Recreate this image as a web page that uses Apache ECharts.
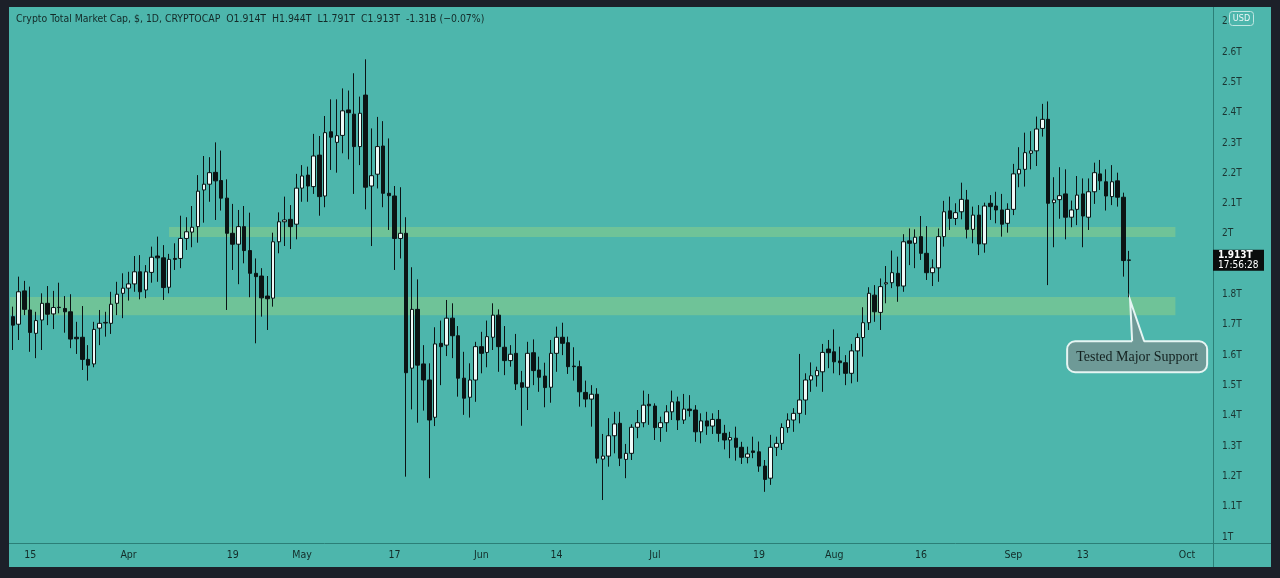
<!DOCTYPE html>
<html><head><meta charset="utf-8">
<script src="https://cdn.jsdelivr.net/npm/echarts@6/dist/echarts.min.js"></script>
<style>
html,body{margin:0;padding:0;background:#1c2029;width:1280px;height:578px;overflow:hidden;}
#bg{position:absolute;left:9px;top:7px;width:1262px;height:560px;background:#4db6ac;}
#chart{position:absolute;left:0;top:0;width:1280px;height:578px;}
</style></head><body><div id="bg"></div><div id="chart"></div>
<script>
const startDate = '2021-03-12';
const endDate = '2021-10-05';
const openVals = [1.727,1.702,1.812,1.749,1.672,1.716,1.771,1.736,1.758,1.754,1.743,1.659,1.659,1.586,1.571,1.689,1.706,1.705,1.771,1.804,1.821,1.835,1.875,1.815,1.873,1.927,1.921,1.824,1.919,1.919,1.985,2.006,2.024,2.145,2.164,2.203,2.176,2.118,2.002,1.966,2.024,1.945,1.870,1.861,1.795,1.788,1.974,2.040,2.048,2.032,2.151,2.194,2.156,2.260,2.125,2.337,2.302,2.325,2.409,2.395,2.288,2.458,2.158,2.197,2.290,2.134,2.125,1.985,2.002,1.557,1.751,1.571,1.518,1.395,1.639,1.633,1.722,1.664,1.524,1.461,1.518,1.628,1.609,1.659,1.732,1.626,1.582,1.606,1.509,1.494,1.608,1.551,1.531,1.494,1.606,1.659,1.641,1.564,1.562,1.477,1.455,1.471,1.257,1.267,1.334,1.375,1.256,1.276,1.362,1.377,1.438,1.432,1.361,1.377,1.413,1.446,1.386,1.422,1.419,1.347,1.383,1.366,1.388,1.342,1.320,1.326,1.296,1.263,1.284,1.281,1.234,1.194,1.296,1.309,1.361,1.386,1.408,1.452,1.518,1.532,1.545,1.620,1.611,1.581,1.575,1.540,1.614,1.658,1.707,1.798,1.741,1.835,1.839,1.870,1.828,1.977,1.969,1.991,1.936,1.872,1.888,1.991,2.076,2.051,2.073,2.112,2.015,2.062,1.967,2.101,2.092,2.079,2.035,2.081,2.198,2.213,2.266,2.274,2.348,2.378,2.103,2.113,2.132,2.055,2.081,2.132,2.055,2.139,2.198,2.172,2.123,2.175,2.121,1.914];
const closeVals = [1.699,1.809,1.751,1.675,1.714,1.771,1.735,1.757,1.757,1.743,1.653,1.654,1.586,1.567,1.685,1.705,1.708,1.768,1.801,1.821,1.835,1.875,1.809,1.875,1.923,1.921,1.823,1.916,1.916,1.985,2.007,2.022,2.141,2.164,2.202,2.175,2.118,2.002,1.966,2.024,1.945,1.870,1.859,1.789,1.786,1.974,2.040,2.046,2.024,2.151,2.191,2.158,2.257,2.123,2.334,2.319,2.324,2.406,2.400,2.288,2.398,2.154,2.192,2.288,2.134,2.126,1.985,2.002,1.542,1.751,1.567,1.518,1.386,1.637,1.628,1.722,1.664,1.524,1.458,1.518,1.628,1.606,1.661,1.732,1.628,1.582,1.603,1.505,1.494,1.606,1.549,1.527,1.493,1.606,1.659,1.639,1.562,1.562,1.479,1.455,1.471,1.260,1.267,1.334,1.373,1.260,1.276,1.362,1.377,1.435,1.433,1.361,1.377,1.413,1.446,1.386,1.422,1.417,1.347,1.383,1.366,1.388,1.342,1.320,1.328,1.296,1.263,1.274,1.279,1.234,1.190,1.296,1.309,1.361,1.386,1.408,1.452,1.518,1.532,1.549,1.609,1.608,1.578,1.575,1.540,1.614,1.658,1.707,1.804,1.743,1.826,1.839,1.872,1.828,1.974,1.969,1.989,1.936,1.872,1.888,1.991,2.073,2.051,2.070,2.114,2.015,2.062,1.967,2.092,2.090,2.079,2.032,2.081,2.198,2.213,2.268,2.274,2.346,2.378,2.101,2.112,2.126,2.055,2.079,2.128,2.059,2.139,2.202,2.175,2.125,2.172,2.121,1.912,1.913];
const lowVals = [1.617,1.650,1.732,1.611,1.590,1.617,1.699,1.686,1.738,1.674,1.623,1.604,1.551,1.516,1.560,1.633,1.661,1.670,1.732,1.722,1.780,1.809,1.784,1.788,1.839,1.842,1.782,1.804,1.881,1.887,1.947,1.956,1.971,2.037,2.106,2.046,2.077,1.749,1.881,1.834,1.903,1.791,1.639,1.727,1.683,1.760,1.936,1.960,1.950,1.982,2.106,2.106,2.132,2.060,2.088,2.211,2.202,2.266,2.246,2.132,2.227,2.081,1.960,2.150,2.088,2.013,1.881,1.919,1.199,1.421,1.377,1.417,1.194,1.366,1.501,1.597,1.590,1.463,1.403,1.394,1.446,1.540,1.560,1.617,1.545,1.534,1.562,1.485,1.367,1.419,1.501,1.479,1.428,1.443,1.545,1.600,1.538,1.516,1.430,1.428,1.364,1.243,1.122,1.232,1.276,1.234,1.194,1.254,1.326,1.362,1.370,1.320,1.314,1.347,1.386,1.353,1.373,1.397,1.314,1.309,1.337,1.340,1.314,1.289,1.260,1.252,1.241,1.243,1.260,1.215,1.149,1.172,1.267,1.287,1.344,1.347,1.375,1.403,1.479,1.496,1.479,1.557,1.540,1.534,1.501,1.507,1.512,1.595,1.683,1.710,1.683,1.771,1.821,1.776,1.809,1.897,1.887,1.914,1.848,1.828,1.842,1.958,2.013,2.029,2.048,1.985,1.969,1.930,1.938,2.046,2.035,1.991,2.004,2.062,2.154,2.156,2.213,2.224,2.321,1.831,1.956,2.050,1.982,2.022,2.029,1.956,2.013,2.099,2.145,2.077,2.095,2.090,1.859,1.791];
const highVals = [1.760,1.859,1.845,1.826,1.743,1.804,1.828,1.812,1.839,1.795,1.801,1.710,1.762,1.633,1.710,1.749,1.743,1.809,1.842,1.870,1.875,1.927,1.930,1.897,1.958,1.991,1.963,1.934,1.969,2.060,2.055,2.092,2.194,2.257,2.253,2.302,2.275,2.180,2.099,2.079,2.092,2.070,1.919,1.887,1.861,2.004,2.071,2.123,2.095,2.198,2.227,2.222,2.330,2.323,2.389,2.444,2.444,2.480,2.473,2.530,2.453,2.576,2.348,2.386,2.372,2.315,2.158,2.154,2.055,1.890,1.850,1.633,1.573,1.692,1.714,1.782,1.771,1.696,1.611,1.573,1.644,1.677,1.714,1.771,1.751,1.696,1.633,1.670,1.548,1.644,1.652,1.595,1.575,1.650,1.694,1.707,1.661,1.626,1.582,1.516,1.501,1.491,1.340,1.392,1.413,1.413,1.307,1.372,1.419,1.483,1.472,1.441,1.397,1.435,1.483,1.463,1.472,1.468,1.435,1.408,1.413,1.408,1.419,1.370,1.347,1.364,1.314,1.298,1.331,1.315,1.254,1.337,1.331,1.375,1.408,1.425,1.604,1.540,1.576,1.562,1.637,1.650,1.685,1.628,1.600,1.637,1.672,1.758,1.824,1.831,1.853,1.894,1.945,1.925,1.999,2.018,2.015,2.059,2.026,1.916,2.018,2.109,2.123,2.101,2.169,2.145,2.090,2.095,2.103,2.128,2.139,2.132,2.101,2.231,2.286,2.334,2.339,2.387,2.429,2.437,2.187,2.220,2.213,2.110,2.191,2.183,2.183,2.235,2.244,2.213,2.227,2.202,2.136,1.944];
const tickDates = ['2021-03-15','2021-04-01','2021-04-19','2021-05-01','2021-05-17','2021-06-01','2021-06-14','2021-07-01','2021-07-19','2021-08-01','2021-08-16','2021-09-01','2021-09-13','2021-10-01'];
const tickTexts = ['15','Apr','19','May','17','Jun','14','Jul','19','Aug','16','Sep','13','Oct'];
const yTickValues = [1.0,1.1,1.2,1.3,1.4,1.5,1.6,1.7,1.8,1.9,2.0,2.1,2.2,2.3,2.4,2.5,2.6,2.7];
const supportZone = [1.732, 1.792];
const resistanceZone = [1.990, 2.023];
const resistanceStart = '2021-04-08';
const zoneEnd = '2021-09-29';
const headerText = 'Crypto Total Market Cap, $, 1D, CRYPTOCAP  O1.914T  H1.944T  L1.791T  C1.913T  -1.31B (\u22120.07%)';
const priceTime = '17:56:28';
const calloutText = 'Tested Major Support';

// categories (one per calendar day)
const categories = [];
(function(){
  let d = new Date(startDate + 'T00:00:00Z');
  const e = new Date(endDate + 'T00:00:00Z');
  while (d <= e) { categories.push(d.toISOString().slice(0,10)); d = new Date(d.getTime() + 86400000); }
})();
const candleData = openVals.map((o, i) => [o, closeVals[i], lowVals[i], highVals[i]]);

const FONT = "'Liberation Sans Narrow','DejaVu Sans Condensed','Roboto Condensed',sans-serif";
const fmtY = v => (Math.abs(v - Math.round(v)) < 1e-9 ? String(Math.round(v)) : v.toFixed(1)) + 'T';

const chart = echarts.init(document.getElementById('chart'), null, {renderer: 'canvas'});
chart.setOption({
  backgroundColor: 'transparent',
  animation: false,
  grid: {left: 10, right: 67, top: 7, bottom: 35},
  xAxis: {
    type: 'category', data: categories, boundaryGap: true,
    axisLine: {show: false}, axisTick: {show: false}, splitLine: {show: false},
    axisLabel: {
      interval: (i, v) => tickDates.indexOf(v) >= 0,
      formatter: v => { const k = tickDates.indexOf(v); return k >= 0 ? tickTexts[k] : ''; },
      color: '#132b28', fontSize: 10.5, fontFamily: FONT, margin: 7
    }
  },
  yAxis: {
    type: 'value', position: 'right', min: 0.9802, max: 2.7486, scale: true, splitNumber: 17,
    axisLine: {show: false}, axisTick: {show: false}, splitLine: {show: false},
    axisLabel: {customValues: yTickValues, showMinLabel: true, showMaxLabel: true,
      formatter: fmtY, color: '#1b3532', fontSize: 10, fontFamily: FONT, margin: 9}
  },
  series: [{
    type: 'candlestick', data: candleData, barWidth: 4, clip: false,
    itemStyle: {color: '#eefaf8', color0: '#0b1414', borderColor: '#0b1414', borderColor0: '#0b1414', borderWidth: 1},
    markArea: {
      silent: true,
      itemStyle: {color: 'rgba(132,204,140,0.62)'},
      data: [
        [{yAxis: supportZone[0]}, {xAxis: zoneEnd, yAxis: supportZone[1]}],
        [{xAxis: resistanceStart, yAxis: resistanceZone[0]}, {xAxis: zoneEnd, yAxis: resistanceZone[1]}]
      ]
    }
  }]
});

// overlays anchored to data
const n = openVals.length;
const lastDate = categories[n - 1];
const lastClose = closeVals[n - 1];
const yClose = chart.convertToPixel({yAxisIndex: 0}, lastClose);
const apex = chart.convertToPixel({gridIndex: 0}, [lastDate, lowVals[n - 1]]);
const ax = apex[0] + 1, ay = apex[1] + 3;
const bx1 = ax - 63, bx2 = ax + 77, by1 = ay + 41, by2 = ay + 72;
const p1 = ax + 2, p2 = ax + 14;
const boxFill = '#6e9a97', boxStroke = '#e6f5f3';

chart.setOption({
  graphic: [
    {type: 'line', z: 50, shape: {x1: 1213.5, y1: 7, x2: 1213.5, y2: 567}, style: {stroke: '#2b7f77', lineWidth: 1}},
    {type: 'line', z: 50, shape: {x1: 9, y1: 543.5, x2: 1271, y2: 543.5}, style: {stroke: '#2b7f77', lineWidth: 1}},
    {type: 'text', z: 60, x: 16, y: 19, style: {text: headerText, fill: '#142a28', font: `10.4px ${FONT}`, textVerticalAlign: 'middle'}},
    {type: 'rect', z: 60, shape: {x: 1229.5, y: 11.5, width: 24, height: 14, r: 3}, style: {fill: '#4db6ac', stroke: '#bfe6e1', lineWidth: 1}},
    {type: 'text', z: 61, x: 1241.5, y: 18.5, style: {text: 'USD', fill: '#eef8f7', font: `9px ${FONT}`, textAlign: 'center', textVerticalAlign: 'middle'}},
    {type: 'rect', z: 60, shape: {x: 1213, y: yClose - 10.5, width: 51, height: 21}, style: {fill: '#0a0d0d'}},
    {type: 'text', z: 61, x: 1218, y: yClose - 5, style: {text: lastClose.toFixed(3) + 'T', fill: '#ffffff', font: `bold 10px ${FONT}`, textVerticalAlign: 'middle'}},
    {type: 'text', z: 61, x: 1218, y: yClose + 5, style: {text: priceTime, fill: '#ffffff', font: `10px ${FONT}`, textVerticalAlign: 'middle'}},
    {type: 'rect', z: 70, shape: {x: bx1, y: by1, width: bx2 - bx1, height: by2 - by1, r: 8}, style: {fill: boxFill, stroke: boxStroke, lineWidth: 2}},
    {type: 'polygon', z: 71, shape: {points: [[p1, by1 + 2], [ax, ay], [p2, by1 + 2]]}, style: {fill: boxFill}},
    {type: 'polyline', z: 72, shape: {points: [[p1, by1], [ax, ay], [p2, by1]]}, style: {stroke: boxStroke, lineWidth: 2, fill: null}},
    {type: 'text', z: 73, x: (bx1 + bx2) / 2, y: (by1 + by2) / 2 + 1, style: {text: calloutText, fill: '#13211f', font: "14px 'Liberation Serif','DejaVu Serif',serif", textAlign: 'center', textVerticalAlign: 'middle'}}
  ]
});
</script></body></html>
